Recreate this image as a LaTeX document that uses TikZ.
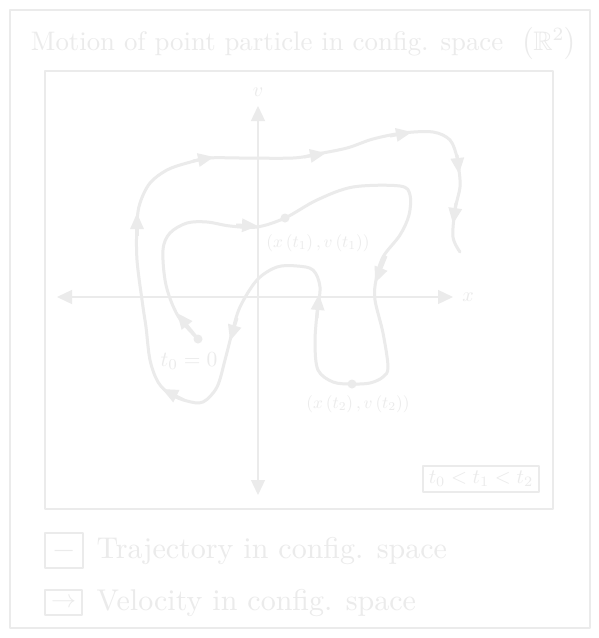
\documentclass[tikz,border=0pt]{standalone}
\usetikzlibrary{arrows.meta}
\usepackage{amssymb}
\definecolor{fg}{RGB}{235,235,235}
\begin{document}
\begin{tikzpicture}[x=1pt,y=-1pt,line join=round,
  frame/.style={draw=fg,line width=2pt},
  axisline/.style={draw=fg,line width=1.3pt,{Triangle[length=15pt,width=14pt]}-{Triangle[length=15pt,width=14pt]}},
  traj/.style={draw=fg,line width=3pt,line cap=round},
  vel/.style={draw=fg,line width=3pt,-{Triangle[length=16pt,width=13pt]}},
  lbl/.style={text=fg,inner sep=0pt,font=\fontsize{10}{12}\selectfont},
  pdot/.style={circle,fill=fg,inner sep=0pt,minimum size=9pt},
  legbox/.style={draw=fg,line width=1.5pt,text=fg,inner sep=0pt,font=\fontsize{10}{12}\selectfont}]
\useasboundingbox (0,0) rectangle (599,638);
\fill[white] (0,0) rectangle (599,638);
% frames
\draw[frame] (10,10) rectangle (590,628);
\node[lbl,scale=2.68,anchor=base] (title) at (304,50) {Motion of point particle in config. space\ \ $\left(\mathbb{R}^2\right)$};
\draw[frame] (45,71) rectangle (553,509);
% axes
\coordinate (xl) at (57,297);
\coordinate (xr) at (453,297);
\coordinate (vb) at (258,495);
\coordinate (vt) at (258,106);
\draw[axisline] (xl) -- (xr);
\draw[axisline] (vb) -- (vt);
\node[lbl,scale=2] (xlab) at (468,297) {$x$};
\node[lbl,scale=2] (vlab) at (258,92) {$v$};
% trajectory
\draw[traj] plot[smooth,tension=0.55] coordinates {
(198,339) (178,316) (166,285) (163,250) (170,233) (187,223) (207,222) (230,226) (257,227) (285,218) (317,200) (353,187) (400,186) (410,195) (409,215) (400,235) (383,257) (376,280) (375,300) (383,333) (388,367) (383,377) (370,383) (352,384) (333,382) (318,370) (315,343) (317,313) (320,287) (313,270) (297,266) (277,267) (257,280) (240,307) (232,333) (225,360) (217,387) (203,402) (187,401) (170,394) (158,382) (150,360) (146,327) (143,307) (137,260) (137,223) (140,203) (150,183) (167,170) (187,163) (210,158) (240,158) (293,158) (317,154) (347,148) (373,139) (403,133) (433,132) (450,140) (457,157) (459,170) (460,187) (455,210) (453,237) (460,252)};
% velocity arrows
\draw[vel] (198,339) -- (177,313);
\draw[vel] (236,225) -- (258,226);
\draw[vel] (386,256) -- (375,283);
\draw[vel] (317,318) -- (319,294);
\draw[vel] (237,318) -- (230,341);
\draw[vel] (184,400) -- (162,389);
\draw[vel] (137,236) -- (137,213);
\draw[vel] (193,161) -- (214,157);
\draw[vel] (304,157) -- (326,153);
\draw[vel] (390,136) -- (412,132);
\draw[vel] (457,155) -- (459,174);
\draw[vel] (456,203) -- (453,224);
% points
\node[pdot] (p0) at (198,339) {};
\node[pdot] (p1) at (285,218) {};
\node[pdot] (p2) at (352,384) {};
\node[lbl,scale=2.15,anchor=base] (l0) at (189,366) {$t_0=0$};
\node[lbl,scale=1.72] (l1) at (318,243) {$(x\left(t_1\right),v\left(t_1\right))$};
\node[lbl,scale=1.72] (l2) at (358,404) {$(x\left(t_2\right),v\left(t_2\right))$};
\node[legbox,minimum width=116pt,minimum height=26pt] (order) at (481,479) {};
\node[lbl,scale=2.05] (ordertxt) at (order.center) {$t_0<t_1<t_2$};
% legend
\node[legbox,minimum width=38pt,minimum height=35pt] (lb1) at (64,550.5) {};
\node[lbl,scale=3] (lb1t) at (lb1.center) {$-$};
\node[legbox,minimum width=37pt,minimum height=25pt] (lb2) at (63.5,602.5) {};
\node[lbl,scale=2.5] (lb2t) at (lb2.center) {$\rightarrow$};
\node[lbl,scale=3,anchor=base west] (lt1) at (96,558) {Trajectory in config. space};
\node[lbl,scale=3,anchor=base west] (lt2) at (96,610) {Velocity in config. space};
\end{tikzpicture}
\end{document}
